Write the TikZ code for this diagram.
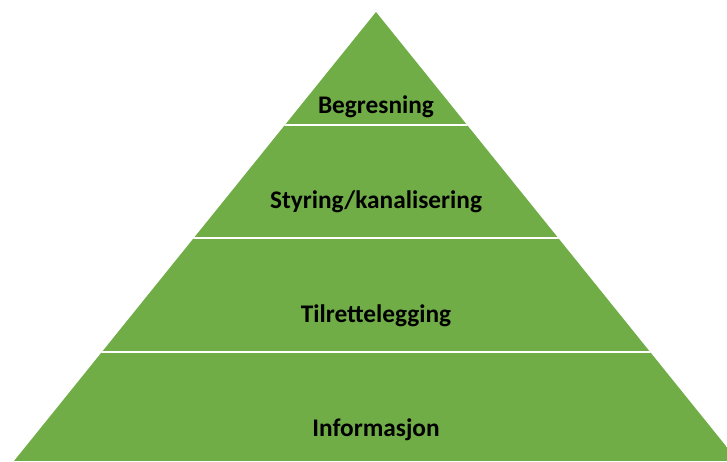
\documentclass[tikz,border=0pt]{standalone}
\usepackage{fontspec}
\setmainfont{Carlito}
\usepackage{tikz}

\definecolor{pyrgreen}{HTML}{70AD47}

\begin{document}
\begin{tikzpicture}[x = 0.75pt , y = -0.75pt , niva/.style = {font = \bfseries\fontsize{19}{22}\selectfont}]
    \useasboundingbox (0,0) rectangle (727,461);
    \clip (0,0) rectangle (727,461);
    \begin{scope}
        \clip (376,12) -- (14,461) -- (738,461) -- cycle;
        \fill[pyrgreen] (0,0) rectangle (740,461); % Pyramide
        \foreach \y in {125, 238, 352}
            \draw[white , line width = 2pt] (0,\y) -- (740,\y); % Skillelinjer
    \end{scope}
    \node[niva] (begr) at (376,107) {Begresning};
    \node[niva] (styr) at (376,202) {Styring/kanalisering};
    \node[niva] (tilr) at (376,316) {Tilrettelegging};
    \node[niva] (info) at (376,430) {Informasjon};
\end{tikzpicture}
\end{document}
